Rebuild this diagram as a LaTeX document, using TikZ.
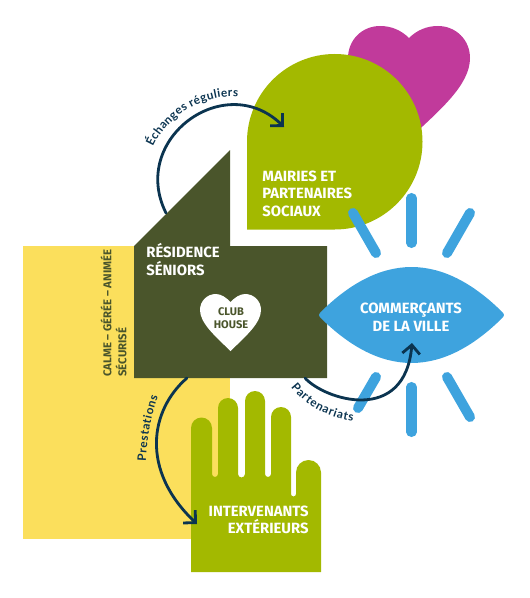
\documentclass[tikz,border=0pt]{standalone}
\usepackage{fontspec}
\setmainfont{Fira Sans}
\newfontfamily\curvefont{Lato}
\usetikzlibrary{arrows.meta, decorations.text}

\definecolor{olivegreen}{HTML}{A3B900}
\definecolor{darkgreen}{HTML}{4A552B}
\definecolor{plum}{HTML}{C13A9B}
\definecolor{sunyellow}{HTML}{FBDF5C}
\definecolor{skyblue}{HTML}{3EA3DE}
\definecolor{navy}{HTML}{0B3450}

\begin{document}
\begin{tikzpicture}[
  x=0.02cm, y=-0.02cm,
  title/.style={font=\fontsize{8.45}{10}\selectfont\bfseries, text=white, inner sep=0pt, align=left},
  ray/.style={draw=skyblue, line width=5.7pt, line cap=round},
  flowarrow/.style={-{Straight Barb[length=5pt, width=10pt]}, line width=1.6pt, draw=navy, line cap=round},
  curvelabel/.style={decorate, decoration={text along path, text align={fit to path}, text={|\curvefont\bfseries\fontsize{6.7}{8}\selectfont\color{navy}|#1}}}
]
\useasboundingbox (0,0) rectangle (529,598);

% Background shapes
\fill[sunyellow] (23,246) rectangle (230,539);
\fill[plum] (409,38) .. controls (417,30) and (427,26) .. (438,26)
  .. controls (456,26) and (470,40) .. (470,58)
  .. controls (470,85) and (440,110) .. (409,139)
  .. controls (378,110) and (348,85) .. (348,58)
  .. controls (348,40) and (362,26) .. (380,26)
  .. controls (391,26) and (401,30) .. (409,38) -- cycle;
\fill[olivegreen] (247,229.5) -- (247,141.75) arc[start angle=180, end angle=450, radius=87.75] -- cycle;
\fill[darkgreen] (230,150) -- (230,246) -- (327,246) -- (327,378) -- (134,378) -- (134,246) -- cycle;

% Club house heart
\fill[white] (230.5,302) .. controls (234.5,298) and (239.5,294) .. (245,294)
  .. controls (254,294) and (261,301) .. (261,310)
  .. controls (261,323) and (246,336) .. (230.5,351)
  .. controls (215,336) and (200,323) .. (200,310)
  .. controls (200,301) and (207,294) .. (216,294)
  .. controls (221.5,294) and (226.5,298) .. (230.5,302) -- cycle;

% Hand
\fill[olivegreen] (191,572) -- (191,428) arc[start angle=180, end angle=360, radius=10.5]
  -- (212,474) arc[start angle=180, end angle=0, radius=3]
  -- (218,408) arc[start angle=180, end angle=360, radius=10]
  -- (238,474) arc[start angle=180, end angle=0, radius=3.5]
  -- (245,401) arc[start angle=180, end angle=360, radius=10]
  -- (265,474) arc[start angle=180, end angle=0, radius=3]
  -- (271,417) arc[start angle=180, end angle=360, radius=10]
  -- (291,494) arc[start angle=180, end angle=0, radius=2.5]
  -- (296,472.5) arc[start angle=180, end angle=360, radius=12.5]
  -- (321,572) -- cycle;

% Eye and rays
\filldraw[fill=skyblue, draw=skyblue, line width=3.4pt, line join=round]
  (322,315) .. controls (350,287) and (380,270) .. (411.5,270)
  .. controls (443,270) and (473,287) .. (501,315)
  .. controls (473,343) and (443,360) .. (411.5,360)
  .. controls (380,360) and (350,343) .. (322,315) -- cycle;
\draw[ray] (411.5,198) -- (411.5,243);
\draw[ray] (411.5,387) -- (411.5,432);
\draw[ray] (353,213) -- (376,253);
\draw[ray] (470,213) -- (447,253);
\draw[ray] (376,377) -- (358,408);
\draw[ray] (447,377) -- (470,417);

% Labels
\node[title, anchor=west] (mairies) at (262,193.5) {MAIRIES ET\\PARTENAIRES\\SOCIAUX};
\node[title, anchor=west] (residence) at (146,259.5) {RÉSIDENCE\\SÉNIORS};
\node[title, align=center] (commercants) at (411,317.5) {COMMERÇANTS\\DE LA VILLE};
\node[title, anchor=east, align=right] (intervenants) at (309,520) {INTERVENANTS\\EXTÉRIEURS};
\node[inner sep=0pt, align=center, text=darkgreen, font=\fontsize{6.3}{7.2}\selectfont\bfseries] (clubhouse) at (231,318) {CLUB\\HOUSE};
\node[inner sep=0pt, align=left, text=darkgreen, rotate=90, anchor=west, font=\fontsize{6.45}{8.6}\selectfont\bfseries] (calme) at (113.5,377) {CALME – GÉRÉE – ANIMÉE\\SÉCURISÉ};

% Arrows
\coordinate (echangesA) at (166,213);
\coordinate (echangesB) at (284,127);
\coordinate (partenA) at (305,378);
\coordinate (partenB) at (412,343);
\coordinate (prestaA) at (187,378);
\coordinate (prestaB) at (197,524);
\draw[flowarrow] (echangesA) .. controls (129,139) and (225,69) .. (echangesB);
\draw[flowarrow] (partenA) .. controls (325,400) and (405,425) .. (partenB);
\draw[flowarrow] (prestaA) .. controls (150,410) and (140,470) .. (prestaB);

% Curved labels
\path[curvelabel={Échanges réguliers}] (153,147) .. controls (166,118) and (203,93) .. (238,97);
\path[curvelabel={Partenariats}] (291,387) .. controls (305,405) and (328,418) .. (353,421);
\path[curvelabel={Prestations}] (146,461) .. controls (147,440) and (150,420) .. (158,397);

\end{tikzpicture}
\end{document}
